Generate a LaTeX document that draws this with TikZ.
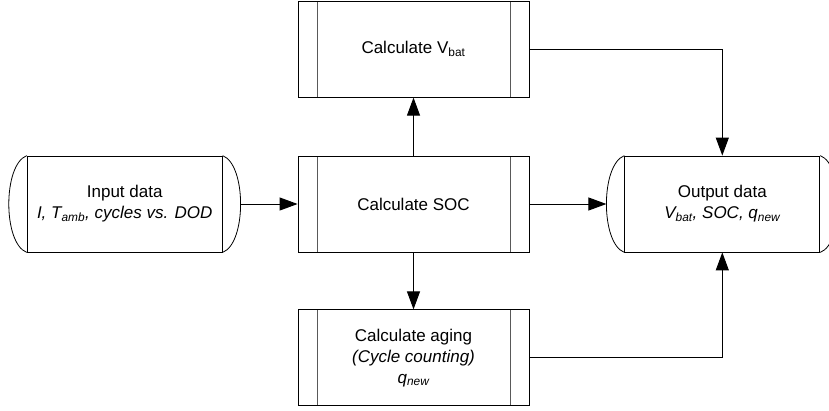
\documentclass[tikz,border=0pt]{standalone}
\usepackage{fontspec}
\setmainfont{Liberation Sans}
\usetikzlibrary{arrows.meta, positioning}

\begin{document}
\begin{tikzpicture}[
    x=1pt, y=-1pt,
    font=\fontsize{17}{21}\selectfont,
    procbox/.style={draw, line width=0.8pt, align=center, minimum width=231pt, minimum height=96pt,
        path picture={
            \draw[gray!70!black, line width=0.8pt]
                ([xshift=19pt]path picture bounding box.north west) -- ([xshift=19pt]path picture bounding box.south west)
                ([xshift=-19pt]path picture bounding box.north east) -- ([xshift=-19pt]path picture bounding box.south east);
        }},
    databox/.style={draw, line width=0.8pt, align=center, minimum width=195pt, minimum height=96pt},
    arrow/.style={-{Triangle[length=18pt, width=13pt]}, line width=1pt}
]
\useasboundingbox (0,0) rectangle (829,410);

\node[procbox] (soc) at (413.5,204) {Calculate SOC};
\node[procbox, above=58pt of soc] (vbat) {Calculate V\textsubscript{bat}};
\node[procbox, below=57pt of soc] (aging) {Calculate aging\\\textit{(Cycle counting)}\\\textit{q\textsubscript{new}}};
\node[databox, left=75pt of soc] (input) {Input data\\\textit{I, T\textsubscript{amb}, cycles vs. DOD}};
\node[databox, right=95pt of soc] (output) {Output data\\\textit{V\textsubscript{bat}, SOC, q\textsubscript{new}}};

% curved ends of the data boxes
\foreach \n in {input, output} {
    \draw[line width=0.8pt] (\n.north west) .. controls +(-24,9) and +(-24,-9) .. (\n.south west)
        (\n.north east) .. controls +(24,9) and +(24,-9) .. (\n.south east);
}

\draw[arrow] ([xshift=18pt]input.east) -- (soc.west);
\draw[arrow] (soc.east) -- ([xshift=-18pt]output.west);
\draw[arrow] (soc.north) -- (vbat.south);
\draw[arrow] (soc.south) -- (aging.north);
\draw[arrow] (vbat.east) -| (output.north);
\draw[arrow] (aging.east) -| (output.south);

\end{tikzpicture}
\end{document}
